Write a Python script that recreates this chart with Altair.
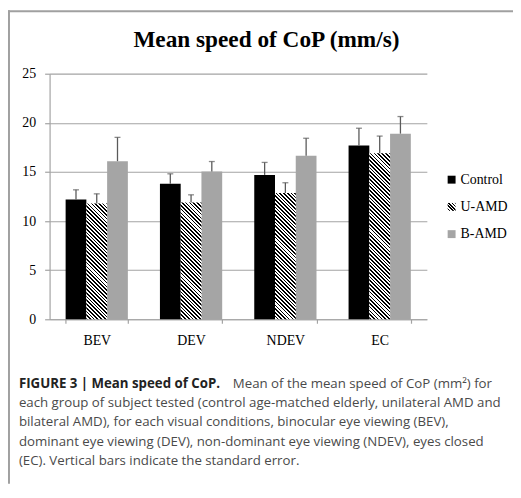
import altair as alt
import pandas as pd

# ---------------- data ----------------
categories = ["BEV", "DEV", "NDEV", "EC"]
groups = ["Control", "U-AMD", "B-AMD"]
control_mean = [12.2, 13.8, 14.7, 17.7]
control_se = [0.98, 1.01, 1.27, 1.75]
uamd_mean = [11.8, 11.9, 12.85, 16.9]
uamd_se = [0.97, 0.77, 1.05, 1.75]
bamd_mean = [16.1, 15.05, 16.65, 18.9]
bamd_se = [2.42, 1.01, 1.78, 1.74]
y_ticks = [0, 5, 10, 15, 20, 25]

title_text = "Mean speed of CoP (mm/s)"
caption_bold = "FIGURE 3 | Mean speed of CoP."
caption_lines = [
    " Mean of the mean speed of CoP (mm\u00b2) for",
    "each group of subject tested (control age-matched elderly, unilateral AMD and",
    "bilateral AMD), for each visual conditions, binocular eye viewing (BEV),",
    "dominant eye viewing (DEV), non-dominant eye viewing (NDEV), eyes closed",
    "(EC). Vertical bars indicate the standard error.",
]

rows = []
for g, means, ses in zip(groups, [control_mean, uamd_mean, bamd_mean],
                         [control_se, uamd_se, bamd_se]):
    for c, m, s in zip(categories, means, ses):
        rows.append({"category": c, "group": g, "mean": m, "se": s})
df = pd.DataFrame(rows)

# ---------------- layout ----------------
W, H = 381, 248
PAD = {"left": 42, "top": 64, "right": 87, "bottom": 166}
PI = 0.34
step = W / (len(categories) - PI + 2 * (PI / 2))
bar_w = step * (1 - PI) / len(groups)
GRID = "#a3a3a3"
SERIF = "Liberation Serif"
SANS = "Open Sans"


def hatch(w, h, period=3.8, frac=0.45):
    k = (w + h) / (w * w + h * h)
    n = (w + h) / period
    stops = []
    i = 0
    while i < n:
        t0 = i / n
        t1 = min((i + frac) / n, 1.0)
        t2 = min((i + 1) / n, 1.0)
        stops += [
            {"offset": t0, "color": "#000000"},
            {"offset": t1, "color": "#000000"},
            {"offset": t1, "color": "#ffffff"},
            {"offset": t2, "color": "#ffffff"},
        ]
        i += 1
    return alt.LinearGradient(gradient="linear", x1=1, y1=0, x2=1 - k * w, y2=k * h,
                              stops=stops)


x_enc = alt.X("category:N", sort=categories, title=None,
              scale=alt.Scale(domain=categories, paddingInner=PI, paddingOuter=PI / 2),
              axis=alt.Axis(tickBand="extent", labelAngle=0, tickSize=4, grid=False,
                            domainColor=GRID, tickColor=GRID, labelFont=SERIF,
                            labelFontSize=14, labelColor="#000000", labelPadding=10,
                            domainWidth=1.2, tickWidth=1.2))
xo_enc = alt.XOffset("group:N", sort=groups,
                     scale=alt.Scale(domain=groups, paddingInner=0, paddingOuter=0))
y_enc = alt.Y("mean:Q", title=None,
              scale=alt.Scale(domain=[0, 25], nice=False, zero=True),
              axis=alt.Axis(values=y_ticks, grid=True, gridColor=GRID, gridWidth=1.2,
                            domainColor=GRID, tickColor=GRID, tickSize=5,
                            domainWidth=1.2, tickWidth=1.2,
                            labelFont=SERIF, labelFontSize=14, labelColor="#000000",
                            labelPadding=9))

base = alt.Chart(df)

bars = base.transform_filter(alt.datum.group != "U-AMD").mark_bar().encode(
    x=x_enc, xOffset=xo_enc, y=y_enc,
    color=alt.Color("group:N", scale=alt.Scale(domain=groups,
                                               range=["#000000", "#ffffff", "#a5a5a5"]),
                    legend=None),
)

layers = [bars]
for c, m in zip(categories, uamd_mean):
    h = m / 25 * H
    layers.append(
        base.transform_filter((alt.datum.group == "U-AMD") & (alt.datum.category == c))
        .mark_bar(fill=hatch(bar_w, h))
        .encode(x=alt.X("category:N", sort=categories), xOffset=alt.XOffset("group:N", sort=groups),
                y=alt.Y("mean:Q"))
    )

err = base.transform_calculate(upper="datum.mean + datum.se").mark_rule(
    color="#5a5a5a", strokeWidth=1.3
).encode(x=alt.X("category:N", sort=categories), xOffset=alt.XOffset("group:N", sort=groups),
         y=alt.Y("mean:Q"), y2="upper:Q")
caps = base.transform_calculate(upper="datum.mean + datum.se").mark_tick(
    color="#5a5a5a", orient="horizontal", size=6, thickness=1.3
).encode(x=alt.X("category:N", sort=categories), xOffset=alt.XOffset("group:N", sort=groups),
         y=alt.Y("upper:Q"))
layers += [err, caps]

one = alt.Data(values=[{"k": 1}])

# frame
layers.append(alt.Chart(one).mark_rule(color="#a0a0a0", strokeWidth=2).encode(
    x=alt.value(-PAD["left"]), x2=alt.value(W + PAD["right"]), y=alt.value(-PAD["top"] + 1)))
layers.append(alt.Chart(one).mark_rule(color="#a0a0a0", strokeWidth=2).encode(
    x=alt.value(-PAD["left"] + 1), y=alt.value(-PAD["top"]), y2=alt.value(H + PAD["bottom"])))

# title
layers.append(alt.Chart(one).mark_text(
    text=title_text, font=SERIF, fontSize=23.5, fontWeight="bold", color="#000000",
    align="center", baseline="alphabetic").encode(x=alt.value(219), y=alt.value(-27)))

# legend
for i, g in enumerate(groups):
    ly = 107 + i * 27.5
    if g == "U-AMD":
        sym = alt.Chart(one).mark_square(size=64, fill=hatch(8, 8, period=3.2), opacity=1)
    else:
        col = "#000000" if g == "Control" else "#a5a5a5"
        sym = alt.Chart(one).mark_square(size=64, fill=col, opacity=1)
    layers.append(sym.encode(x=alt.value(406), y=alt.value(ly)))
    layers.append(alt.Chart(one).mark_text(
        text=g, font=SERIF, fontSize=14, color="#000000", align="left",
        baseline="middle").encode(x=alt.value(415), y=alt.value(ly)))

# caption
cap_x = -31
CAP_FS = 13.4
layers.append(alt.Chart(one).mark_text(
    text=caption_bold, font=SANS, fontSize=CAP_FS, fontWeight="bold", color="#222222",
    align="left", baseline="alphabetic").encode(x=alt.value(cap_x), y=alt.value(317)))
for i, line in enumerate(caption_lines):
    lx = 185 if i == 0 else cap_x
    layers.append(alt.Chart(one).mark_text(
        text=line, font=SANS, fontSize=CAP_FS, color="#4a4a4a",
        align="left", baseline="alphabetic").encode(x=alt.value(lx), y=alt.value(317 + i * 19.5)))

chart = alt.layer(*layers).properties(
    width=W, height=H,
    autosize=alt.AutoSizeParams(type="none"),
    padding=PAD,
    background="#ffffff",
).configure_view(strokeWidth=0)

chart.save("out.html", embed_options={"renderer": "svg", "actions": False})
